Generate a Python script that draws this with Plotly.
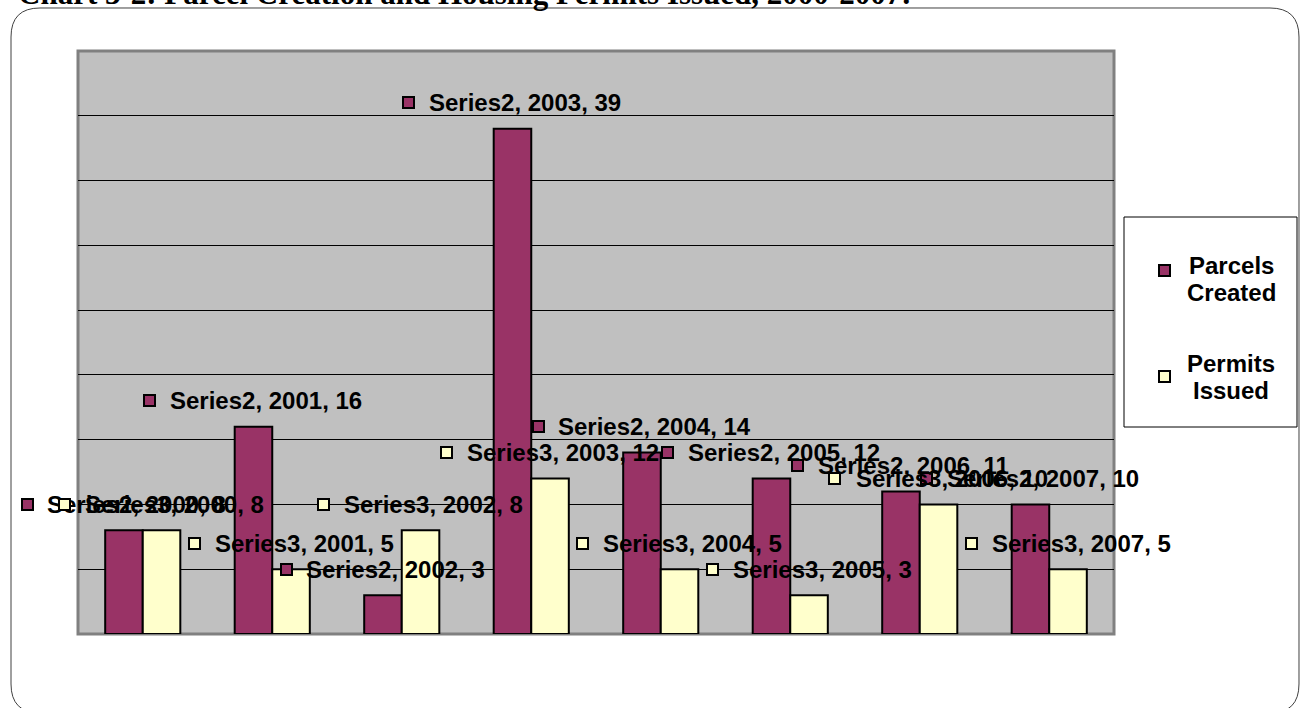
import plotly.graph_objects as go

# ---- data -------------------------------------------------------------
years = [2000, 2001, 2002, 2003, 2004, 2005, 2006, 2007]
parcels_created = [8, 16, 3, 39, 14, 12, 11, 10]
permits_issued = [8, 5, 8, 12, 5, 3, 10, 5]
series_ids = ["Series2", "Series3"]
legend_lines = [["Parcels", "Created"], ["Permits", "Issued"]]
title_text = "Chart 3-2: Parcel Creation and Housing Permits Issued, 2000-2007:"

# ---- geometry / style -------------------------------------------------
W, H = 1301, 708
L, R, T, B = 78, 1114, 51, 634          # plot-area pixel edges
MAROON = "#993366"
CREAM = "#FFFFCC"
BARGAP = 0.42
BAR_W = (1 - BARGAP) / 2
LABEL_SIZE = 24
SANS = "Liberation Sans, Arial, sans-serif"

# Arial Bold advance widths (per 1000 em) for label text measurement
ADV = {"S": 667, "e": 556, "r": 389, "i": 278, "s": 556, ",": 278, " ": 278}


def text_width(s, size):
    return sum(ADV.get(c, 556) for c in s) * size / 1000.0


def px_x(px):
    return (px - L) / (R - L)


def px_y(py):
    return (B - py) / (B - T)


fig = go.Figure()
xs = list(range(len(years)))
series = [(parcels_created, MAROON), (permits_issued, CREAM)]

for (vals, color), sid in zip(series, series_ids):
    fig.add_trace(go.Bar(
        x=xs, y=vals, name=sid,
        marker=dict(color=color, line=dict(color="black", width=2)),
        showlegend=False, hoverinfo="skip",
    ))

annotations = []
MARK = 9          # marker box size
GAP = 26          # marker + space before text
for k, ((vals, color), sid) in enumerate(zip(series, series_ids)):
    dx = -BAR_W / 2 if k == 0 else BAR_W / 2
    for i, (yr, v) in enumerate(zip(years, vals)):
        txt = f"{sid}, {yr}, {v}"
        tw = text_width(txt, LABEL_SIZE)
        xc = i + dx
        annotations.append(dict(
            x=xc, y=v, xref="x", yref="y", text=txt, showarrow=False,
            xanchor="center", yanchor="middle", xshift=GAP / 2, yshift=26,
            font=dict(family=SANS, size=LABEL_SIZE, color="black", weight="bold"),
        ))
        annotations.append(dict(
            x=xc, y=v, xref="x", yref="y", text=" ", showarrow=False,
            xanchor="center", yanchor="middle",
            xshift=-(GAP + tw) / 2 + 5.5, yshift=26,
            width=MARK, height=MARK, borderpad=0, borderwidth=2,
            bgcolor=color, bordercolor="black", font=dict(size=2),
        ))

# legend drawn as a boxed key on the right
legend_marks = [(270, MAROON), (376, CREAM)]
legend_text_y = [(265, 292), (364, 390)]
for (my, color), lines, ly in zip(legend_marks, legend_lines, legend_text_y):
    annotations.append(dict(
        x=px_x(1164), y=px_y(my), xref="paper", yref="paper", text=" ",
        showarrow=False, xanchor="center", yanchor="middle",
        width=MARK, height=MARK, borderpad=0, borderwidth=2,
        bgcolor=color, bordercolor="black", font=dict(size=2),
    ))
    for line, yy in zip(lines, ly):
        annotations.append(dict(
            x=px_x(1231), y=px_y(yy), xref="paper", yref="paper", text=line,
            showarrow=False, xanchor="center", yanchor="middle",
            font=dict(family=SANS, size=LABEL_SIZE, color="black", weight="bold"),
        ))

# title sits at the very top edge of the page
annotations.append(dict(
    x=px_x(16), y=px_y(13), xref="paper", yref="paper", text=title_text,
    showarrow=False, xanchor="left", yanchor="bottom",
    font=dict(family="Liberation Serif, Times New Roman, serif", size=31,
              color="black", weight="bold"),
))

# rounded outer frame
fl, fr, ft, fb, rad = 11, 1299, 8, 713, 29


def P(x, y):
    return f"{px_x(x):.5f},{px_y(y):.5f}"


frame_path = (
    f"M {P(fl + rad, ft)} L {P(fr - rad, ft)} Q {P(fr, ft)} {P(fr, ft + rad)} "
    f"L {P(fr, fb - rad)} Q {P(fr, fb)} {P(fr - rad, fb)} "
    f"L {P(fl + rad, fb)} Q {P(fl, fb)} {P(fl, fb - rad)} "
    f"L {P(fl, ft + rad)} Q {P(fl, ft)} {P(fl + rad, ft)} Z"
)

shapes = [
    dict(type="path", path=frame_path, xref="paper", yref="paper",
         line=dict(color="#404040", width=1), layer="below"),
    dict(type="rect", xref="paper", yref="paper", x0=0, x1=1, y0=0, y1=1,
         line=dict(color="#808080", width=3), layer="below"),
    dict(type="rect", xref="paper", yref="paper",
         x0=px_x(1124), x1=px_x(1297), y0=px_y(427), y1=px_y(217),
         line=dict(color="black", width=1), fillcolor="white", layer="below"),
]

fig.update_layout(
    width=W, height=H,
    margin=dict(l=L, r=W - R, t=T, b=H - B, pad=0),
    paper_bgcolor="white", plot_bgcolor="#C0C0C0",
    barmode="group", bargap=BARGAP, bargroupgap=0,
    xaxis=dict(range=[-0.5, len(years) - 0.5], showticklabels=False,
               showgrid=False, zeroline=False, ticks=""),
    yaxis=dict(range=[0, 45], dtick=5, showticklabels=False, showgrid=True,
               gridcolor="black", gridwidth=1, zeroline=False, ticks=""),
    annotations=annotations, shapes=shapes, showlegend=False,
)

fig.write_html("out.html")
